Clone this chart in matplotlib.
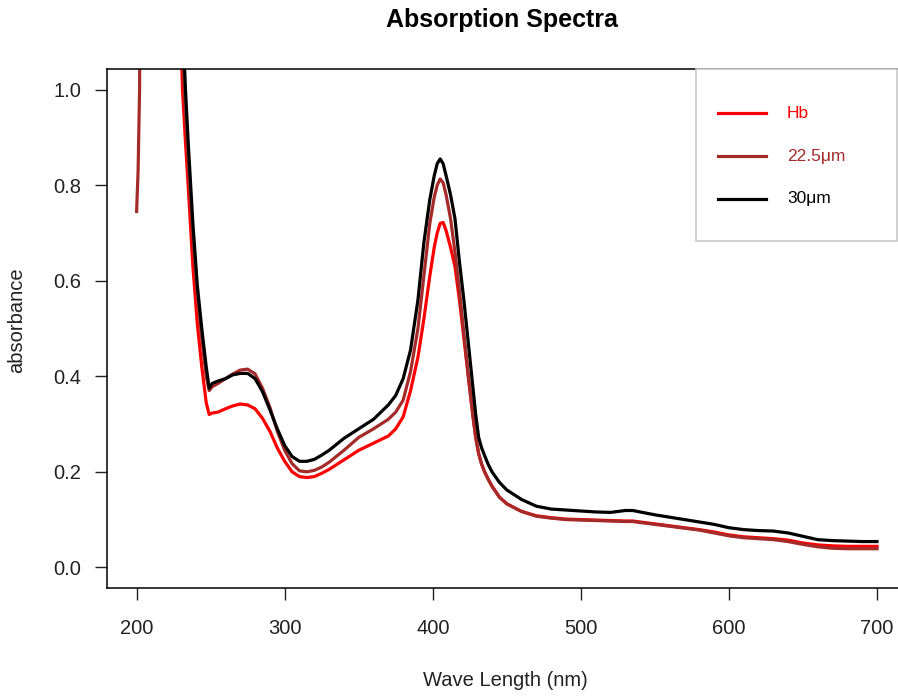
import matplotlib
matplotlib.use("Agg")
from matplotlib import pyplot as plt
from matplotlib.patches import Rectangle

plt.rcParams['font.family'] = ['Liberation Sans', 'DejaVu Sans']

# wavelength (nm)
wl = [200, 201, 202, 203, 225, 229, 231, 233, 235, 238, 241, 244, 247, 249, 251, 255, 260, 265, 270, 275,
      280, 285, 290, 295, 300, 305, 310, 315, 320, 325, 330, 340, 350, 360, 370, 375, 380, 385, 390, 394,
      398, 401, 403, 405, 407, 409, 412, 415, 418, 421, 424, 427, 429, 431, 433, 435, 437.5, 440, 445, 450,
      460, 470, 480, 490, 500, 510, 520, 530, 535, 540, 550, 560, 570, 580, 590, 600, 610, 620, 630, 640,
      650, 660, 670, 680, 690, 700]

hb = [2.5, 2.5, 2.5, 2.5, 2.5, 1.2, 1.0, 0.89, 0.79, 0.63, 0.51, 0.42, 0.345, 0.32, 0.323, 0.325, 0.332, 0.338, 0.342, 0.34,
      0.332, 0.312, 0.285, 0.25, 0.222, 0.2, 0.19, 0.188, 0.19, 0.197, 0.205, 0.225, 0.245, 0.26, 0.275, 0.29, 0.315, 0.37, 0.44, 0.52,
      0.61, 0.67, 0.70, 0.72, 0.722, 0.705, 0.67, 0.63, 0.56, 0.48, 0.40, 0.32, 0.272, 0.238, 0.216, 0.2, 0.184, 0.17, 0.147, 0.133,
      0.117, 0.108, 0.104, 0.101, 0.10, 0.099, 0.098, 0.097, 0.097, 0.095, 0.091, 0.087, 0.083, 0.079, 0.074, 0.068, 0.064, 0.062, 0.060, 0.057,
      0.051, 0.047, 0.045, 0.044, 0.044, 0.044]

um225 = [0.745, 0.83, 1.0, 1.6, 2.5, 1.35, 1.08, 0.95, 0.84, 0.69, 0.57, 0.48, 0.40, 0.37, 0.378, 0.385, 0.395, 0.405, 0.413, 0.415,
         0.405, 0.375, 0.335, 0.285, 0.245, 0.217, 0.202, 0.20, 0.203, 0.21, 0.22, 0.245, 0.272, 0.29, 0.31, 0.325, 0.35, 0.41, 0.50, 0.61,
         0.72, 0.775, 0.80, 0.813, 0.805, 0.78, 0.73, 0.66, 0.58, 0.49, 0.40, 0.32, 0.272, 0.238, 0.216, 0.2, 0.184, 0.17, 0.147, 0.133,
         0.117, 0.107, 0.103, 0.10, 0.099, 0.098, 0.097, 0.096, 0.096, 0.094, 0.09, 0.086, 0.082, 0.078, 0.072, 0.066, 0.062, 0.06, 0.058, 0.054,
         0.048, 0.043, 0.04, 0.039, 0.039, 0.039]

um30 = [2.5, 2.5, 2.5, 2.5, 2.5, 1.45, 1.15, 1.0, 0.88, 0.72, 0.59, 0.50, 0.42, 0.375, 0.385, 0.39, 0.395, 0.403, 0.406, 0.406,
        0.395, 0.368, 0.33, 0.29, 0.255, 0.232, 0.222, 0.222, 0.226, 0.235, 0.245, 0.27, 0.29, 0.31, 0.34, 0.36, 0.395, 0.455, 0.56, 0.68,
        0.77, 0.82, 0.845, 0.855, 0.845, 0.82, 0.78, 0.73, 0.64, 0.56, 0.47, 0.38, 0.32, 0.272, 0.25, 0.234, 0.215, 0.2, 0.178, 0.162,
        0.142, 0.128, 0.122, 0.12, 0.118, 0.116, 0.115, 0.119, 0.119, 0.116, 0.11, 0.105, 0.10, 0.095, 0.09, 0.083, 0.079, 0.077, 0.076, 0.072,
        0.065, 0.058, 0.056, 0.055, 0.054, 0.054]

labels = ["Hb", "22.5μm", "30μm"]
colors = ["#FF0000", "#A52A2A", "#000000"]

W, H = 898, 697
fig = plt.figure(figsize=(W / 100, H / 100), dpi=100)
# plot region runs slightly past the right edge of the picture
ax = fig.add_axes([107 / W, (H - 588) / H, 799.6 / W, 519 / H])

for y, c in zip([hb, um225, um30], colors):
    ax.plot(wl, y, color=c, lw=2.3, solid_joinstyle='round')

ax.set_xlim(180, 720)
ax.set_ylim(-0.0432, 1.0432)
ax.set_xticks([200, 300, 400, 500, 600, 700])
ax.set_yticks([0.0, 0.2, 0.4, 0.6, 0.8, 1.0])
ax.set_yticklabels(["0.0", "0.2", "0.4", "0.6", "0.8", "1.0"])
ax.tick_params(direction='out', length=8.6, width=1, labelsize=14.5, colors='#222222')
ax.tick_params(axis='x', pad=14)
ax.tick_params(axis='y', pad=10)
ax.spines['right'].set_visible(False)
for s in ['left', 'bottom', 'top']:
    ax.spines[s].set_linewidth(1.1)

ax.text(0.4988, -0.1773, "Wave Length (nm)", transform=ax.transAxes, ha='center', va='center',
        fontsize=14.5, color='#222222')
ax.text(-0.1126, 0.516, "absorbance", transform=ax.transAxes, ha='center', va='center',
        rotation=90, fontsize=14.5, color='#222222')
fig.text(501.7 / W, 1 - 27 / H, "Absorption Spectra", ha='center', va='baseline',
         fontsize=18, fontweight='bold')

# legend box
x0 = (696 - 107) / 799.6
x1 = (897 - 107) / 799.6
yb = (588 - 241) / 519
ax.add_patch(Rectangle((x0, yb), x1 - x0, 1 - yb, transform=ax.transAxes, facecolor='white',
                       edgecolor='#c8c8c8', lw=1.2, zorder=5, clip_on=False))
rows = [(588 - 113) / 519, (588 - 156) / 519, (588 - 199) / 519]
lx0 = (718 - 107) / 799.6
lx1 = (766 - 107) / 799.6
tx = (787 - 107) / 799.6
for lab, c, ry in zip(labels, colors, rows):
    ax.plot([lx0, lx1], [ry, ry], transform=ax.transAxes, color=c, lw=2.3, zorder=6, clip_on=False)
    ax.text(tx, ry, lab, transform=ax.transAxes, color=c, fontsize=12.5, ha='left', va='center', zorder=6)

plt.savefig("out.png", dpi=100)
